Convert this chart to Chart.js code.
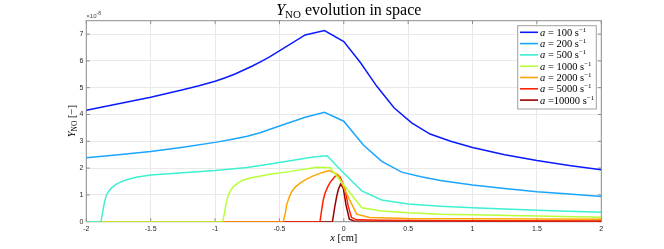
<!DOCTYPE html>
<html>
<head>
<meta charset="utf-8">
<script src="https://cdn.jsdelivr.net/npm/chart.js@4/dist/chart.umd.min.js"></script>
<style>
  html, body { margin: 0; padding: 0; background: #fff; }
  canvas { display: block; }
</style>
</head>
<body>
<canvas id="grafico" width="664" height="249"></canvas>
<script>
// Valores en unidades de 1e-8
const xTicks = [-2, -1.5, -1, -0.5, 0, 0.5, 1, 1.5, 2]
const yTicks = [0, 1, 2, 3, 4, 5, 6, 7]

const etiquetas = ['= 100', '= 200', '= 500', '= 1000', '= 2000', '= 5000', '=10000']
const colores = ['#0a1aff', '#1aa6ff', '#3cf0d2', '#b8ff3a', '#ffa500', '#ff2200', '#990000']

const x100 = [-2, -1.875, -1.75, -1.625, -1.5, -1.375, -1.25, -1.125, -1.0, -0.92, -0.84, -0.71, -0.64, -0.573, -0.3, -0.15, 0, 0.13, 0.255, 0.39, 0.527, 0.67, 0.83, 1.0, 1.25, 1.5, 1.75, 2]
const y100 = [4.16, 4.28, 4.40, 4.52, 4.64, 4.78, 4.92, 5.07, 5.24, 5.37, 5.52, 5.81, 5.98, 6.16, 6.97, 7.13, 6.72, 5.93, 5.06, 4.25, 3.69, 3.27, 3.0, 2.77, 2.5, 2.28, 2.1, 1.94]

const x200 = [-2, -1.75, -1.5, -1.25, -1.0, -0.875, -0.75, -0.65, -0.573, -0.3, -0.15, 0, 0.15, 0.295, 0.45, 0.6, 0.75, 1.0, 1.25, 1.5, 1.75, 2]
const y200 = [2.39, 2.50, 2.62, 2.78, 2.96, 3.07, 3.19, 3.32, 3.45, 3.90, 4.08, 3.75, 2.87, 2.25, 1.85, 1.68, 1.54, 1.37, 1.24, 1.12, 1.03, 0.94]

const x500 = [-2, -1.886, -1.875, -1.86, -1.845, -1.825, -1.8, -1.76, -1.7, -1.614, -1.5, -1.25, -1.0, -0.75, -0.573, -0.237, -0.13, 0, 0.14, 0.295, 0.5, 0.75, 1.0, 1.5, 2]
const y500 = [0, 0, 0.3, 0.7, 0.98, 1.15, 1.28, 1.42, 1.55, 1.66, 1.74, 1.83, 1.91, 2.02, 2.15, 2.41, 2.46, 1.81, 1.15, 0.81, 0.66, 0.58, 0.52, 0.43, 0.35]

const x1000 = [-2, -0.94, -0.928, -0.915, -0.9, -0.88, -0.86, -0.82, -0.785, -0.72, -0.656, -0.573, -0.45, -0.21, -0.106, 0.14, 0.295, 0.5, 0.75, 1.0, 1.5, 2]
const y1000 = [0, 0, 0.3, 0.65, 0.95, 1.15, 1.3, 1.45, 1.55, 1.64, 1.70, 1.77, 1.85, 2.03, 2.01, 0.52, 0.40, 0.33, 0.28, 0.26, 0.21, 0.17]

const x2000 = [-2, -0.47, -0.455, -0.444, -0.425, -0.405, -0.375, -0.34, -0.29, -0.237, -0.17, -0.113, -0.043, 0.02, 0.1, 0.2, 0.5, 1.0, 2]
const y2000 = [0, 0, 0.3, 0.63, 0.9, 1.12, 1.3, 1.44, 1.59, 1.71, 1.83, 1.91, 1.75, 1.06, 0.28, 0.16, 0.12, 0.11, 0.09]

const x5000 = [-2, -0.185, -0.172, -0.16, -0.146, -0.125, -0.107, -0.08, -0.055, -0.03, -0.01, 0.01, 0.035, 0.06, 0.1, 0.3, 1.0, 2]
const y5000 = [0, 0, 0.44, 0.8, 1.06, 1.3, 1.46, 1.62, 1.75, 1.68, 1.45, 1.19, 0.56, 0.16, 0.07, 0.05, 0.04, 0.03]

const x10000 = [-2, -0.088, -0.07, -0.055, -0.043, -0.025, -0.004, 0.017, 0.043, 0.08, 2]
const y10000 = [0, 0, 0.56, 0.95, 1.19, 1.40, 1.25, 0.63, 0.09, 0.03, 0.01]

const seriesX = [x100, x200, x500, x1000, x2000, x5000, x10000]
const seriesY = [y100, y200, y500, y1000, y2000, y5000, y10000]

const SERIF = '"Liberation Serif", "DejaVu Serif", serif'
const SANS = '"Liberation Sans", Arial, sans-serif'

// dibuja texto con trozos de distinta fuente
function textoMixto(ctx, trozos, x, y, alinear) {
  let total = 0
  trozos.forEach(t => { ctx.font = t.font; total += ctx.measureText(t.t).width })
  let cx = alinear === 'center' ? x - total / 2 : x
  trozos.forEach(t => {
    ctx.font = t.font
    ctx.fillText(t.t, cx, y + (t.dy || 0))
    cx += ctx.measureText(t.t).width
  })
}

const marcoPlugin = {
  id: 'marco',
  beforeDatasetsDraw(chart) {
    const { ctx, chartArea: a, scales } = chart
    ctx.save()
    ctx.strokeStyle = '#8c8c8c'
    ctx.lineWidth = 1
    ctx.strokeRect(a.left, a.top, a.right - a.left, a.bottom - a.top)
    ctx.beginPath()
    xTicks.forEach(v => {
      const px = scales.x.getPixelForValue(v)
      ctx.moveTo(px, a.bottom); ctx.lineTo(px, a.bottom - 3.5)
      ctx.moveTo(px, a.top); ctx.lineTo(px, a.top + 3.5)
    })
    yTicks.forEach(v => {
      const py = scales.y.getPixelForValue(v)
      ctx.moveTo(a.left, py); ctx.lineTo(a.left + 3.5, py)
      ctx.moveTo(a.right, py); ctx.lineTo(a.right - 3.5, py)
    })
    ctx.stroke()
    ctx.restore()
  },
  afterDraw(chart) {
    const { ctx, chartArea: a } = chart
    ctx.save()
    ctx.fillStyle = '#000'
    ctx.textBaseline = 'alphabetic'

    // titulo
    textoMixto(ctx, [
      { t: 'Y', font: 'italic 16px ' + SERIF },
      { t: 'NO', font: '11px ' + SERIF, dy: 3 },
      { t: ' evolution in space', font: '16px ' + SERIF }
    ], (a.left + a.right) / 2 + 5, 14.5, 'center')

    // etiqueta x
    textoMixto(ctx, [
      { t: 'x', font: 'italic 10.5px ' + SERIF },
      { t: ' [cm]', font: '10.5px ' + SERIF }
    ], (a.left + a.right) / 2, 241, 'center')

    // etiqueta y
    ctx.save()
    ctx.translate(75, (a.top + a.bottom) / 2)
    ctx.rotate(-Math.PI / 2)
    textoMixto(ctx, [
      { t: 'Y', font: 'italic 10.5px ' + SERIF },
      { t: 'NO', font: '7.5px ' + SERIF, dy: 2 },
      { t: ' [\u2212]', font: '10.5px ' + SERIF }
    ], 0, 0, 'center')
    ctx.restore()

    // exponente
    ctx.fillStyle = '#404040'
    textoMixto(ctx, [
      { t: '\u00d710', font: '6px ' + SANS },
      { t: '-8', font: '5px ' + SANS, dy: -2.5 }
    ], a.left, a.top - 3, 'left')

    // leyenda
    const lx = 517.7, ly = 25.7, lw = 78.6, lh = 83.3
    ctx.fillStyle = '#fff'
    ctx.fillRect(lx, ly, lw, lh)
    ctx.strokeStyle = '#a0a0a0'
    ctx.lineWidth = 1
    ctx.strokeRect(lx, ly, lw, lh)
    etiquetas.forEach((et, i) => {
      const yy = 32.3 + i * 11.3
      ctx.strokeStyle = colores[i]
      ctx.lineWidth = 1.6
      ctx.beginPath()
      ctx.moveTo(520, yy); ctx.lineTo(538, yy)
      ctx.stroke()
      ctx.fillStyle = '#000'
      textoMixto(ctx, [
        { t: 'a', font: 'italic 10.5px ' + SERIF },
        { t: ' ' + et + ' s', font: '10.5px ' + SERIF },
        { t: '\u22121', font: '7px ' + SERIF, dy: -4 }
      ], 540, yy + 3.5, 'left')
    })
    ctx.restore()
  }
}

const ctx = document.getElementById('grafico').getContext('2d')

new Chart(ctx, {
  type: 'line',
  data: {
    datasets: seriesX.map((xs, i) => ({
      label: etiquetas[i],
      data: xs.map((x, j) => ({ x: x, y: seriesY[i][j] })),
      borderColor: colores[i],
      borderWidth: 1.5,
      pointRadius: 0,
      tension: 0,
      fill: false
    }))
  },
  options: {
    responsive: false,
    animation: false,
    devicePixelRatio: 1,
    layout: { padding: { left: 0, right: 62.7, top: 20.7, bottom: 0 } },
    plugins: { legend: { display: false }, tooltip: { enabled: false }, title: { display: false } },
    scales: {
      x: {
        type: 'linear',
        min: -2,
        max: 2,
        afterBuildTicks: s => { s.ticks = xTicks.map(v => ({ value: v })) },
        afterFit: s => { s.height = 27.3 },
        ticks: { font: { size: 7, family: SANS }, color: '#262626', padding: 3, maxRotation: 0, callback: v => String(v) },
        grid: { color: '#e9e9e9', drawTicks: false },
        border: { display: false }
      },
      y: {
        type: 'linear',
        min: 0,
        max: 7.5,
        afterBuildTicks: s => { s.ticks = yTicks.map(v => ({ value: v })) },
        afterFit: s => { s.width = 86.3 },
        ticks: { font: { size: 7, family: SANS }, color: '#262626', padding: 3, callback: v => String(v) },
        grid: { color: '#e9e9e9', drawTicks: false },
        border: { display: false }
      }
    }
  },
  plugins: [marcoPlugin]
})
</script>
</body>
</html>
